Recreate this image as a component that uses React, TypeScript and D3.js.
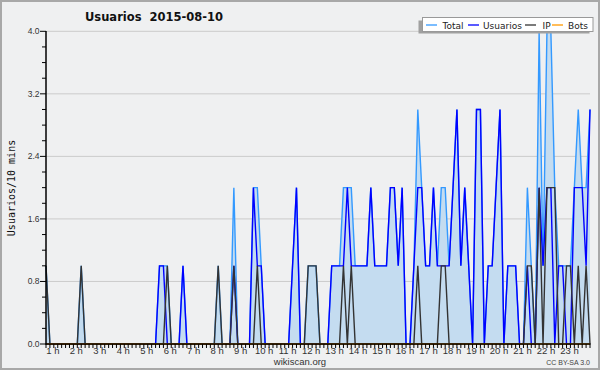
import React from "react";
import * as d3 from "d3";

// 10-minute slots from 00:40 to 23:50
const total = [
  1,0,0,0,0,0,0,0,0,1,
  0,0,0,0,0,0,0,0,0,0,
  0,0,0,0,0,0,0,0,0,1,
  1,1,0,0,0,1,0,0,0,0,
  0,0,0,0,1,0,0,0,2,0,
  0,0,0,2,2,1,0,0,0,0,
  0,0,0,1,2,0,0,1,1,1,
  0,0,0,1,1,1,2,2,2,1,
  1,1,1,2,1,1,1,1,2,2,
  1,2,0,0,1,3,2,1,1,2,
  1,2,2,1,2,3,1,2,1,0,
  3,3,0,1,1,2,3,0,1,1,
  1,0,0,2,1,0,4,1,4,4,
  2,1,1,1,1,2,3,2,2,3,
];
const usuarios = [
  0,0,0,0,0,0,0,0,0,0,
  0,0,0,0,0,0,0,0,0,0,
  0,0,0,0,0,0,0,0,0,1,
  1,0,0,0,0,1,0,0,0,0,
  0,0,0,0,0,0,0,0,1,0,
  0,0,0,2,1,1,0,0,0,0,
  0,0,0,1,2,0,0,0,0,0,
  0,0,0,1,1,1,1,2,1,1,
  1,1,1,2,1,1,1,1,2,2,
  1,2,0,0,1,2,2,1,1,2,
  1,1,1,1,2,3,1,2,1,0,
  3,3,0,1,1,2,3,0,1,1,
  1,0,0,1,0,0,2,1,2,2,
  0,1,1,0,0,2,2,2,1,3,
];
const ip = [
  1,0,0,0,0,0,0,0,0,1,
  0,0,0,0,0,0,0,0,0,0,
  0,0,0,0,0,0,0,0,0,0,
  0,1,0,0,0,0,0,0,0,0,
  0,0,0,0,1,0,0,0,1,0,
  0,0,0,0,1,0,0,0,0,0,
  0,0,0,0,0,0,0,1,1,1,
  0,0,0,0,0,0,1,0,1,0,
  0,0,0,0,0,0,0,0,0,0,
  0,0,0,0,0,1,0,0,0,0,
  0,1,1,0,0,0,0,0,0,0,
  0,0,0,0,0,0,0,0,0,0,
  0,0,0,1,1,0,2,0,2,2,
  2,0,0,1,1,0,1,0,1,0,
];
const bots = [
  0,0,0,0,0,0,0,0,0,0,
  0,0,0,0,0,0,0,0,0,0,
  0,0,0,0,0,0,0,0,0,0,
  0,0,0,0,0,0,0,0,0,0,
  0,0,0,0,0,0,0,0,0,0,
  0,0,0,0,0,0,0,0,0,0,
  0,0,0,0,0,0,0,0,0,0,
  0,0,0,0,0,0,0,0,0,0,
  0,0,0,0,0,0,0,0,0,0,
  0,0,0,0,0,0,0,0,0,0,
  0,0,0,0,0,0,0,0,0,0,
  0,0,0,0,0,0,0,0,0,0,
  0,0,0,0,0,0,0,0,0,0,
  0,0,0,0,0,0,0,0,0,0,
];
const hourLabels = [
  "1 h","2 h","3 h","4 h","5 h","6 h","7 h","8 h","9 h","10 h","11 h","12 h",
  "13 h","14 h","15 h","16 h","17 h","18 h","19 h","20 h","21 h","22 h","23 h",
];
const yMajor = [0, 0.8, 1.6, 2.4, 3.2, 4.0];
const yMinor = [0,0.2,0.4,0.6,0.8,1.0,1.2,1.4,1.6,1.8,2.0,2.2,2.4,2.6,2.8,3.0,3.2,3.4,3.6,3.8,4.0];
const seriesNames = ["Total", "Usuarios", "IP", "Bots"];
const seriesColors = ["#3399ff", "#0000ff", "#333333", "#ff9900"];

const title = "Usuarios  2015-08-10";
const yTitle = "Usuarios/10 mins";

export default function App() {
  const W = 600, H = 370;
  const x = d3.scaleLinear().domain([0, total.length - 1]).range([46, 590]);
  const y = d3.scaleLinear().domain([0, 4]).range([344, 31.3]);
  const mk = (arr: number[]) =>
    d3.line<number>().x((_, i) => x(i)).y((d) => y(d))(arr) || "";
  const areaPath =
    d3.area<number>().x((_, i) => x(i)).y0(y(0)).y1((d) => y(d))(total) || "";
  const series = [total, usuarios, ip, bots];
  // first data slot is 00:40 -> hour k at index 6k-4
  const hourIndex = (k: number) => 6 * k - 4;
  const legendPos = [
    { lx: 426, tx: 442.5 },
    { lx: 468, tx: 483 },
    { lx: 525, tx: 542.5 },
    { lx: 552, tx: 568 },
  ];
  const sans = "'Liberation Sans', Arial, sans-serif";
  const dv = "'DejaVu Sans', Verdana, sans-serif";
  return (
    <svg
      width={W}
      height={H}
      style={{ position: "absolute", left: 0, top: 0, display: "block" }}
    >
      <rect x={0} y={0} width={W} height={H} fill="#eff0f1" />
      <rect x={1} y={1} width={W - 2} height={H - 2} fill="none" stroke="#a8a8a8" strokeWidth={2} />
      {/* grid */}
      {yMajor.slice(1).map((v) => (
        <line key={v} x1={46} x2={590} y1={y(v)} y2={y(v)} stroke="#cbcbcb" strokeWidth={1} />
      ))}
      {/* area */}
      <path d={areaPath} fill="#c4dcf0" />
      {/* lines */}
      {series.map((s, k) => (
        <path key={k} d={mk(s)} fill="none" stroke={seriesColors[k]} strokeWidth={1.4} strokeLinejoin="miter" />
      ))}
      {/* axes */}
      <line x1={46} x2={46} y1={31} y2={344.5} stroke="#000" strokeWidth={1.5} />
      <line x1={45.5} x2={590.5} y1={344} y2={344} stroke="#000" strokeWidth={1.5} />
      {yMinor.map((v) => (
        <line key={v} x1={yMajor.some((m) => Math.abs(m - v) < 1e-6) ? 40 : 42} x2={46} y1={y(v)} y2={y(v)} stroke="#000" strokeWidth={1} />
      ))}
      {yMajor.map((v) => (
        <text key={v} x={39.5} y={y(v) + 3} textAnchor="end" fontFamily={sans} fontSize={8.5} fill="#333">
          {v.toFixed(1)}
        </text>
      ))}
      {total.map((_, i) => (
        <line key={i} x1={x(i)} x2={x(i)} y1={344} y2={348} stroke="#000" strokeWidth={1} />
      ))}
      {hourLabels.map((lab, k) => (
        <text key={lab} x={x(hourIndex(k + 1)) - 1} y={353.5} textAnchor="middle" fontFamily={sans} fontSize={9.5} fill="#333">
          {lab}
        </text>
      ))}
      {/* titles */}
      <text x={85} y={21} fontFamily={dv} fontWeight="bold" fontSize={11.5} fill="#111" style={{ whiteSpace: "pre" }}>
        {title}
      </text>
      <text
        transform={`translate(15,188) rotate(-90)`}
        textAnchor="middle"
        fontFamily="'DejaVu Sans Mono', monospace"
        fontSize={10}
        fill="#111"
      >
        {yTitle}
      </text>
      <text x={300} y={365} textAnchor="middle" fontFamily={sans} fontSize={9.5} fill="#333">
        wikiscan.org
      </text>
      <text x={590} y={365} textAnchor="end" fontFamily={sans} fontSize={7} fill="#444">
        CC BY-SA 3.0
      </text>
      {/* legend */}
      <rect x={418.5} y={20.5} width={171} height={13} fill="#a0a0a0" />
      <rect x={422.5} y={17.5} width={170.5} height={14} fill="#ffffff" stroke="#999" strokeWidth={1} />
      {seriesNames.map((n, k) => (
        <g key={n}>
          <line x1={legendPos[k].lx} x2={legendPos[k].lx + 11} y1={25} y2={25} stroke={seriesColors[k]} strokeWidth={1.3} />
          <text x={legendPos[k].tx} y={28.5} fontFamily={dv} fontSize={9} fill="#222">
            {n}
          </text>
        </g>
      ))}
    </svg>
  );
}
